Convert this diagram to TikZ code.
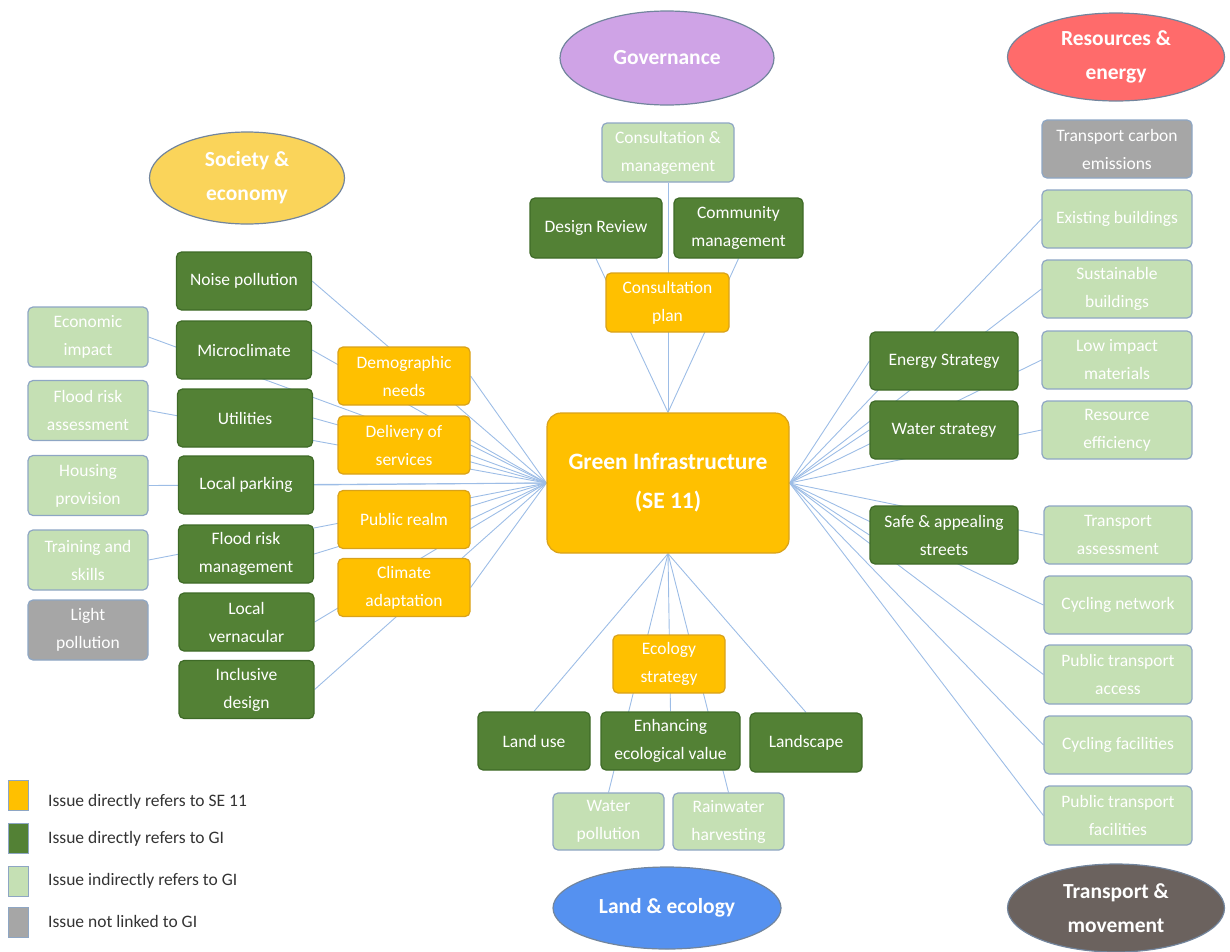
\documentclass[tikz,border=0pt]{standalone}
\usepackage{fontspec}
\setmainfont{Carlito}
\usetikzlibrary{shapes.geometric,backgrounds}
\definecolor{orng}{HTML}{FFC000}
\definecolor{orngb}{HTML}{D9A21A}
\definecolor{dgrn}{HTML}{538135}
\definecolor{dgrnb}{HTML}{3E6A27}
\definecolor{lgrn}{HTML}{C5E0B4}
\definecolor{bbord}{HTML}{8EA6C4}
\definecolor{gry}{HTML}{A6A6A6}
\definecolor{lnk}{HTML}{9DBDE6}
\definecolor{lav}{HTML}{CFA3E6}
\definecolor{redc}{HTML}{FF6B6B}
\definecolor{yelc}{HTML}{FAD45A}
\definecolor{bluc}{HTML}{5591F0}
\definecolor{darkg}{HTML}{6B625E}
\tikzset{
  x=1pt, y=-1pt,
  bx/.style={rectangle, rounded corners=5pt, align=center, text=white, line width=1.2pt,
     font=\fontsize{17.5}{28}\selectfont, inner sep=2pt},
  orb/.style={bx, fill=orng, draw=orngb},
  dgb/.style={bx, fill=dgrn, draw=dgrnb},
  lgb/.style={bx, fill=lgrn, draw=bbord},
  grb/.style={bx, fill=gry, draw=bbord},
  ell/.style={ellipse, align=center, text=white, line width=1.2pt, draw=bbord!80!black,
     font=\fontsize{21.5}{34}\selectfont\bfseries, inner sep=0pt},
  lk/.style={draw=lnk, line width=0.9pt},
  legsq/.style={rectangle, minimum width=20pt, minimum height=30pt, draw=bbord, line width=1pt, inner sep=0pt},
  legtx/.style={anchor=west, text=black!80, font=\fontsize{17.5}{20}\selectfont, inner sep=0pt}
}
\begin{document}
\begin{tikzpicture}
\useasboundingbox (0,0) rectangle (1230,951);
\begin{scope}
\clip (0,0) rectangle (1230,951);
% ellipses
\node[ell, fill=lav, minimum width=214pt, minimum height=94pt] (gov) at (667,58) {Governance};
\node[ell, fill=redc, minimum width=217pt, minimum height=88pt] (res) at (1116,57) {Resources \&\\energy};
\node[ell, fill=yelc, minimum width=195pt, minimum height=92pt] (soc) at (247,178) {Society \&\\economy};
\node[ell, fill=bluc, minimum width=228pt, minimum height=82pt] (land) at (667,908) {Land \& ecology};
\node[ell, fill=darkg, minimum width=217pt, minimum height=88pt] (trans) at (1116,908) {Transport \&\\movement};
\end{scope}
% centre
\node[orb, rounded corners=14pt, minimum width=242pt, minimum height=140pt, font=\fontsize{23.5}{39}\selectfont\bfseries] (gi) at (668,483) {Green Infrastructure\\(SE 11)};
% top
\node[lgb, minimum width=132pt, minimum height=59pt] (conman) at (668,152.5) {Consultation \&\\management};
\node[dgb, minimum width=132pt, minimum height=60pt] (design) at (596,228) {Design Review};
\node[dgb, minimum width=129pt, minimum height=60pt] (commun) at (738.5,228) {Community\\management};
\node[orb, minimum width=123pt, minimum height=59pt] (conplan) at (667.5,302.5) {Consultation\\plan};
% left column 1
\node[lgb, minimum width=120pt, minimum height=60pt] (econ) at (88,337) {Economic\\impact};
\node[lgb, minimum width=120pt, minimum height=60pt] (fra) at (88,410.5) {Flood risk\\assessment};
\node[lgb, minimum width=120pt, minimum height=60pt] (housing) at (88,485.5) {Housing\\provision};
\node[lgb, minimum width=120pt, minimum height=60pt] (training) at (88,560) {Training and\\skills};
\node[grb, minimum width=120pt, minimum height=60pt] (light) at (88,630) {Light\\pollution};
% left column 2
\node[dgb, minimum width=135pt, minimum height=58pt] (noise) at (244,281) {Noise pollution};
\node[dgb, minimum width=135pt, minimum height=58pt] (micro) at (244,350) {Microclimate};
\node[dgb, minimum width=135pt, minimum height=58pt] (util) at (245,418) {Utilities};
\node[dgb, minimum width=135pt, minimum height=58pt] (parking) at (246,485) {Local parking};
\node[dgb, minimum width=135pt, minimum height=58pt] (frm) at (246,554) {Flood risk\\management};
\node[dgb, minimum width=135pt, minimum height=58pt] (vern) at (246.5,622) {Local\\vernacular};
\node[dgb, minimum width=135pt, minimum height=58pt] (incl) at (246.5,689.5) {Inclusive\\design};
% orange column
\node[orb, minimum width=132pt, minimum height=58pt] (demo) at (404,376) {Demographic\\needs};
\node[orb, minimum width=132pt, minimum height=58pt] (deliv) at (404,445) {Delivery of\\services};
\node[orb, minimum width=132pt, minimum height=58pt] (realm) at (404,519.5) {Public realm};
\node[orb, minimum width=132pt, minimum height=58pt] (climate) at (404,587.5) {Climate\\adaptation};
% right column 1
\node[dgb, minimum width=148pt, minimum height=58pt] (energy) at (944,361) {Energy Strategy};
\node[dgb, minimum width=148pt, minimum height=58pt] (water) at (944,430) {Water strategy};
\node[dgb, minimum width=148pt, minimum height=58pt] (safe) at (944,535) {Safe \& appealing\\streets};
% right column 2
\node[grb, minimum width=150pt, minimum height=58pt] (tce) at (1117,149) {Transport carbon\\emissions};
\node[lgb, minimum width=150pt, minimum height=58pt] (exist) at (1117,219) {Existing buildings};
\node[lgb, minimum width=150pt, minimum height=58pt] (sust) at (1117,289) {Sustainable\\buildings};
\node[lgb, minimum width=150pt, minimum height=58pt] (lowimp) at (1117,360) {Low impact\\materials};
\node[lgb, minimum width=150pt, minimum height=58pt] (reseff) at (1117,430) {Resource\\efficiency};
\node[lgb, minimum width=148pt, minimum height=58pt] (tassess) at (1118,535) {Transport\\assessment};
\node[lgb, minimum width=148pt, minimum height=58pt] (cyclnet) at (1118,605) {Cycling network};
\node[lgb, minimum width=148pt, minimum height=59pt] (ptaccess) at (1118,674.5) {Public transport\\access};
\node[lgb, minimum width=148pt, minimum height=58pt] (cyclfac) at (1118,745) {Cycling facilities};
\node[lgb, minimum width=148pt, minimum height=59pt] (ptfac) at (1118,815.5) {Public transport\\facilities};
% bottom
\node[orb, minimum width=112pt, minimum height=58pt] (eco) at (669,664) {Ecology\\strategy};
\node[dgb, minimum width=112pt, minimum height=58pt] (landuse) at (534,741) {Land use};
\node[dgb, minimum width=139pt, minimum height=58pt] (enh) at (670.5,741) {Enhancing\\ecological value};
\node[dgb, minimum width=112pt, minimum height=59pt] (landscape) at (806,742.5) {Landscape};
\node[lgb, minimum width=111pt, minimum height=57pt] (waterpol) at (608.5,821.5) {Water\\pollution};
\node[lgb, minimum width=111pt, minimum height=57pt] (rain) at (728.5,821.5) {Rainwater\\harvesting};
% legend
\node[legsq, fill=orng] (leg1) at (18,795) {};
\node[legsq, fill=dgrn] (leg2) at (18,838) {};
\node[legsq, fill=lgrn] (leg3) at (18,881) {};
\node[legsq, fill=gry] (leg4) at (18,922) {};
\node[legtx] (lt1) at (48,802) {Issue directly refers to SE 11};
\node[legtx] (lt2) at (48,839) {Issue directly refers to GI};
\node[legtx] (lt3) at (48,881) {Issue indirectly refers to GI};
\node[legtx] (lt4) at (48,921) {Issue not linked to GI};
% connectors
\begin{pgfonlayer}{background}
\foreach \n in {econ,fra,housing,training,noise,micro,util,parking,frm,vern,incl,demo,deliv,realm,climate}
  \draw[lk] (gi.west) -- (\n.east);
\foreach \n in {energy,water,safe,exist,sust,lowimp,reseff,tassess,cyclnet,ptaccess,cyclfac,ptfac}
  \draw[lk] (gi.east) -- (\n.west);
\foreach \n in {conman,design,commun}
  \draw[lk] (gi.north) -- (\n.south);
\foreach \n in {enh,waterpol,rain,landuse,landscape}
  \draw[lk] (gi.south) -- (\n.north);
\end{pgfonlayer}
\end{tikzpicture}
\end{document}
